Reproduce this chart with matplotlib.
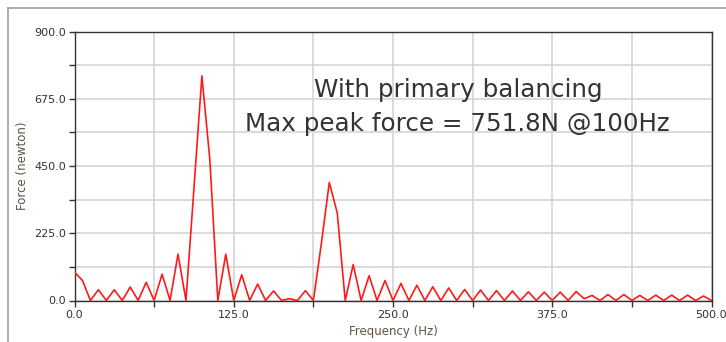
import numpy as np
import matplotlib.pyplot as plt
from matplotlib.ticker import MultipleLocator, FormatStrFormatter
from matplotlib.lines import Line2D

# spectrum sampled every 6.25 Hz, 0..500 Hz
freq_step = 6.25
force = [95, 67, 0, 36, 0, 36, 0, 45, 0, 61,
         0, 88, 0, 155, 0, 375, 751.8, 470, 0, 155,
         0, 86, 0, 55, 0, 32, 0, 6, 0, 33,
         0, 190, 395, 293, 0, 120, 0, 83, 0, 67,
         0, 57, 0, 51, 0, 46, 0, 42, 0, 37,
         0, 35, 0, 33, 0, 32, 0, 29, 0, 28,
         0, 28, 0, 30, 6, 17, 0, 20, 0, 20,
         0, 17, 0, 18, 0, 18, 0, 18, 0, 15,
         0]
freq = np.arange(len(force)) * freq_step

note_line1 = "With primary balancing"
note_line2 = "Max peak force = 751.8N @100Hz"

W, H = 726, 342
fig = plt.figure(figsize=(W / 100, H / 100), dpi=100)
fig.patch.set_facecolor('white')

ax = fig.add_axes([74.5 / W, 1 - 300.5 / H, 637 / W, 269 / H])
ax.plot(freq, force, color='#ff1a1a', lw=1.2, zorder=3)

ax.set_xlim(0, 500)
ax.set_ylim(0, 900)
ax.xaxis.set_major_locator(MultipleLocator(125))
ax.xaxis.set_minor_locator(MultipleLocator(62.5))
ax.yaxis.set_major_locator(MultipleLocator(225))
ax.yaxis.set_minor_locator(MultipleLocator(112.5))
ax.xaxis.set_major_formatter(FormatStrFormatter('%.1f'))
ax.yaxis.set_major_formatter(FormatStrFormatter('%.1f'))

ax.grid(True, which='both', color='#d4d4d4', lw=1.2, zorder=0)
ax.set_axisbelow(True)
for s in ax.spines.values():
    s.set_color('#333333')
    s.set_linewidth(1.0)

ax.tick_params(which='both', direction='out', length=4, width=1,
               color='#333333', labelcolor='#333333', labelsize=8, pad=2)
ax.tick_params(axis='x', which='major', pad=3)

ax.set_xlabel('Frequency (Hz)', fontsize=8.5, color='#5e5446', va='center')
ax.set_ylabel('Force (newton)', fontsize=8.5, color='#5e5446', va='center')
ax.xaxis.set_label_coords(0.5, -0.117)
ax.yaxis.set_label_coords(-0.081, 0.5)

# annotation text
fig.text(458 / W, 1 - 97 / H, note_line1, ha='center', va='baseline',
         fontsize=17.7, color='#333333')
fig.text(457 / W, 1 - 130.5 / H, note_line2, ha='center', va='baseline',
         fontsize=17.7, color='#333333')

# window frame lines (top and left)
fig.add_artist(Line2D([8 / W, 1], [1 - 8 / H, 1 - 8 / H], color='#a0a0a0', lw=1.2))
fig.add_artist(Line2D([8 / W, 8 / W], [0, 1 - 8 / H], color='#a0a0a0', lw=1.2))

fig.savefig('out.png', dpi=100)
